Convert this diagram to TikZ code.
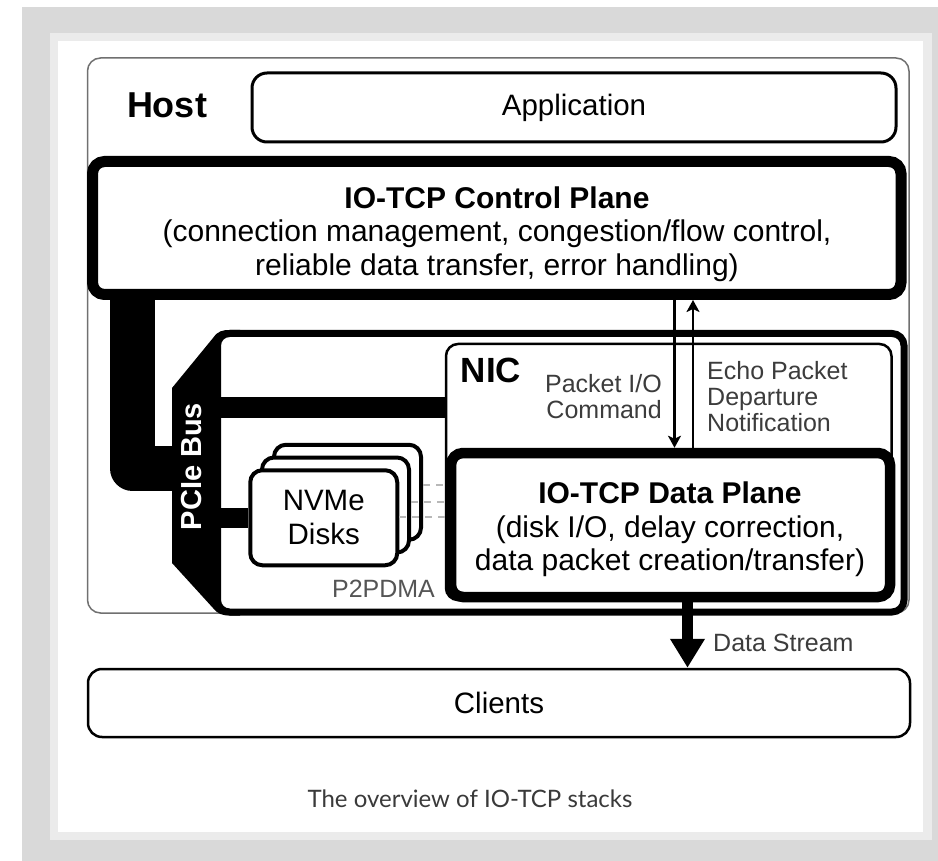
\documentclass[tikz,border=0pt]{standalone}
\usepackage{fontspec}
\setmainfont{Liberation Sans}
\newfontfamily\capfont{Lato}
\usetikzlibrary{arrows.meta,calc}

\definecolor{bggray}{HTML}{D9D9D9}
\definecolor{bandgray}{HTML}{EBEBEB}
\definecolor{hostline}{HTML}{707070}
\definecolor{notegray}{HTML}{3C3C3C}
\definecolor{dmagray}{HTML}{555555}
\definecolor{dashgray}{HTML}{B8B8B8}
\definecolor{capgray}{HTML}{3A3A3A}

\begin{document}
\begin{tikzpicture}[x=1pt,y=-1pt,
  box/.style={draw, rectangle, inner sep=0pt, fill=white},
  maintext/.style={font=\fontsize{30}{33.5}\selectfont},
  sidenote/.style={inner sep=0pt, text=notegray, font=\fontsize{25}{26}\selectfont},
  heading/.style={inner sep=0pt, font=\fontsize{36}{40}\selectfont\bfseries},
  disk/.style={box, line width=4, rounded corners=12, minimum width=147, minimum height=95},
  bus/.style={line width=#1},
  signal/.style={line width=2.2, -{Stealth[length=12pt,width=13pt,inset=3pt]}},
  p2pline/.style={dashgray, line width=2.5, dash pattern=on 7pt off 6pt},
]
% page background and frame
\fill[white] (0,0) rectangle (938,861);
\fill[bggray] (22,7) rectangle (938,861);
\fill[bandgray] (50,33) rectangle (932,840);
\fill[white] (58,41) rectangle (923,832);
\useasboundingbox (0,0) rectangle (938,861);

% host
\node[box, draw=hostline, line width=1.5, rounded corners=13,
      minimum width=821.5, minimum height=555] (host) at (498.25,335.5) {};
\node[heading, anchor=base] (hostlbl) at (167,118) {Host};

\node[box, line width=3, rounded corners=15, minimum width=644, minimum height=69,
      font=\fontsize{29.5}{33}\selectfont] (app) at (574,107.5) {Application};

% control plane
\node[box, line width=11, rounded corners=12, minimum width=808.5,
      minimum height=133] (ctrl) at (496.75,228) {};
\node[maintext, align=center, inner sep=0pt] (ctrltxt) at (497,234)
  {\textbf{IO-TCP Control Plane}\\(connection management, congestion/flow control,\\reliable data transfer, error handling)};

% PCIe bus body
\fill (172,388) -- (213,338) .. controls (218,331) and (222,330) .. (230,330)
  -- (240,330) -- (240,615.5) -- (230,615.5)
  .. controls (222,615.5) and (218,614) .. (213,608) -- (172,563) -- cycle;
\node[box, line width=7, rounded corners=12, minimum width=686.5,
      minimum height=278.5] (outer) at (560.75,472.75) {};
\node[rotate=90, text=white, inner sep=0pt,
      font=\fontsize{29}{34}\selectfont\bfseries] (pcie) at (191.5,466.5) {PCIe Bus};
\coordinate (pcieL) at (172,468.5);

% host to PCIe
\draw[bus=45, line join=round] ($(132.5,0 |- ctrl.south)+(0,-3)$) |- (pcieL);

% NIC
\node[box, line width=2.5, rounded corners=12, minimum width=445.5,
      minimum height=256] (nic) at (668.75,472) {};
\node[inner sep=0pt, anchor=base, font=\fontsize{35}{40}\selectfont\bfseries]
  (niclbl) at (491,382) {NIC};
\draw[bus=21] (outer.west |- 0,407.5) -- (nic.west |- 0,407.5);

\node[box, line width=10.5, rounded corners=12, minimum width=439,
      minimum height=144] (dp) at (670.5,525) {};
\node[maintext, align=center, inner sep=0pt] (dptxt) at (670,529.5)
  {\textbf{IO-TCP Data Plane}\\(disk I/O, delay correction,\\data packet creation/transfer)};

% disks
\node[disk] (disk3) at (347.5,492.25) {};
\node[disk] (disk2) at (335.5,505) {};
\node[disk, font=\fontsize{29.5}{34}\selectfont, align=center] (disk1) at (323.75,517.75) {NVMe\\Disks};
\draw[bus=20] (outer.west |- 0,518) -- (disk1.west |- 0,518);

\draw[p2pline] (disk3.east |- 0,485) -- (dp.west |- 0,485);
\draw[p2pline] (disk2.east |- 0,502) -- (dp.west |- 0,502);
\draw[p2pline] (disk1.east |- 0,517) -- (dp.west |- 0,517);
\node[sidenote, text=dmagray, anchor=base] (p2p) at (383.5,597) {P2PDMA};

% control / data plane signalling
\draw[signal] (674.5,0 |- ctrl.south) -- (674.5,0 |- dp.north);
\draw[signal] (693,0 |- dp.north) -- (693,0 |- ctrl.south);
\node[sidenote, align=right, anchor=east] (pktlbl) at (662,397) {Packet I/O\\Command};
\node[sidenote, align=left, anchor=west] (echolbl) at (707,397)
  {Echo Packet\\Departure\\Notification};

% clients
\node[box, line width=2.5, rounded corners=14, minimum width=822, minimum height=68,
      font=\fontsize{29.5}{33}\selectfont] (clients) at (499,703) {Clients};
\draw[line width=11, -{Triangle[length=29pt,width=33pt]}]
  (687.5,0 |- dp.south) -- (687.5,0 |- clients.north);
\node[sidenote, anchor=base west] (dslbl) at (713,651) {Data Stream};

\node[anchor=base, inner sep=0pt, text=capgray, font=\capfont\fontsize{24}{28}\selectfont]
  (caption) at (470,807) {The overview of IO-TCP stacks};
\end{tikzpicture}
\end{document}
